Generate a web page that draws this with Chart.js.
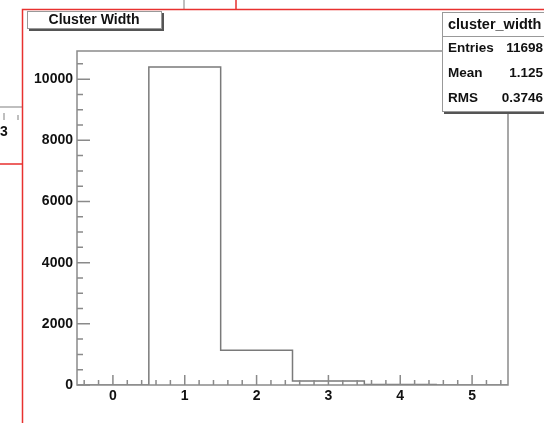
<!DOCTYPE html>
<html>
<head>
<meta charset="utf-8">
<script src="https://cdn.jsdelivr.net/npm/chart.js@4.4.1/dist/chart.umd.min.js"></script>
<style>
  html, body { margin: 0; padding: 0; background: #fff; }
  #wrap { position: relative; width: 544px; height: 423px; }
</style>
</head>
<body>
<div id="wrap"><canvas id="hist"></canvas></div>
<script>
// histogram cluster_width, bins of width 1 centred on integers
const binCenters = [0, 1, 2, 3, 4, 5];
const binCounts = [0, 10400, 1140, 130, 20, 0];
const xTickValues = [0, 1, 2, 3, 4, 5];
const yTickValues = [0, 2000, 4000, 6000, 8000, 10000];
const histTitle = 'Cluster Width';
const statsName = 'cluster_width';
const statsRows = [['Entries', '11698'], ['Mean', '1.125'], ['RMS', '0.3746']];

const FONT = 'Liberation Sans, Arial, Helvetica, sans-serif';
const GREY = '#8a8a8a';
const RED = '#e8312f';

// step outline points: lower edge of each bin + closing edge
const stepPts = binCenters.map((c, i) => ({ x: c - 0.5, y: binCounts[i] }));
stepPts.push({ x: binCenters[binCenters.length - 1] + 0.5, y: 0 });

const yMax = Math.max(...binCounts) * 1.05;

// frame, inward ticks, title box, stats box and the neighbouring pad bits
const rootPlugin = {
  id: 'rootPlugin',
  afterDraw(chart) {
    const ctx = chart.ctx;
    const a = chart.chartArea;
    const xs = chart.scales.x, ys = chart.scales.y;
    ctx.save();

    // frame
    ctx.strokeStyle = GREY;
    ctx.lineWidth = 1.5;
    ctx.strokeRect(a.left, a.top, a.right - a.left, a.bottom - a.top);

    // x ticks (pointing up)
    ctx.beginPath();
    for (let v = -0.4; v < 5.5; v += 0.2) {
      const px = xs.getPixelForValue(v);
      const major = Math.abs(v - Math.round(v)) < 1e-6;
      ctx.moveTo(px, a.bottom);
      ctx.lineTo(px, a.bottom - (major ? 10 : 5));
    }
    // y ticks (pointing right)
    for (let v = 0; v <= 10500; v += 500) {
      const py = ys.getPixelForValue(v);
      const major = v % 2000 === 0;
      ctx.moveTo(a.left, py);
      ctx.lineTo(a.left + (major ? 13 : 6), py);
    }
    ctx.stroke();

    // title box
    ctx.fillStyle = '#555';
    ctx.fillRect(29, 13, 135, 18);
    ctx.fillStyle = '#fff';
    ctx.fillRect(27, 11, 135, 18);
    ctx.strokeStyle = '#999';
    ctx.lineWidth = 1;
    ctx.strokeRect(27.5, 11.5, 134, 17);
    ctx.fillStyle = '#111';
    ctx.font = 'bold 14px ' + FONT;
    ctx.textAlign = 'center';
    ctx.textBaseline = 'middle';
    ctx.fillText(histTitle, 94, 20.5);

    // stats box
    ctx.fillStyle = '#555';
    ctx.fillRect(444, 14, 120, 100);
    ctx.fillStyle = '#fff';
    ctx.fillRect(442, 12, 120, 100);
    ctx.strokeStyle = '#999';
    ctx.strokeRect(442.5, 12.5, 120, 99);
    ctx.beginPath();
    ctx.moveTo(442, 36.5);
    ctx.lineTo(544, 36.5);
    ctx.stroke();
    ctx.fillStyle = '#111';
    ctx.textAlign = 'left';
    ctx.font = 'bold 14.5px ' + FONT;
    ctx.fillText(statsName, 448, 25);
    ctx.font = 'bold 13.5px ' + FONT;
    statsRows.forEach((r, i) => {
      const y = 48.5 + i * 25;
      ctx.textAlign = 'left';
      ctx.fillText(r[0], 448, y);
      ctx.textAlign = 'right';
      ctx.fillText(r[1], 543, y);
    });

    // bits of the neighbouring pads
    ctx.strokeStyle = '#aaa';
    ctx.lineWidth = 1.5;
    ctx.beginPath();
    ctx.moveTo(0, 107); ctx.lineTo(22, 107);
    ctx.moveTo(4, 113); ctx.lineTo(4, 120);
    ctx.moveTo(18, 115); ctx.lineTo(18, 120);
    ctx.moveTo(184, 0); ctx.lineTo(184, 9);
    ctx.stroke();
    ctx.fillStyle = '#111';
    ctx.font = 'bold 14px ' + FONT;
    ctx.textAlign = 'left';
    ctx.fillText('3', 0, 132.5);

    ctx.strokeStyle = RED;
    ctx.lineWidth = 1.5;
    ctx.beginPath();
    ctx.moveTo(22.5, 423); ctx.lineTo(22.5, 9.5); ctx.lineTo(544, 9.5);
    ctx.moveTo(0, 164); ctx.lineTo(22.5, 164);
    ctx.moveTo(236, 0); ctx.lineTo(236, 9.5);
    ctx.stroke();

    ctx.restore();
  }
};

new Chart(document.getElementById('hist'), {
  type: 'line',
  data: {
    datasets: [{
      data: stepPts,
      stepped: 'before',
      borderColor: '#7a7a7a',
      borderWidth: 1.5,
      pointRadius: 0,
      fill: false
    }]
  },
  options: {
    responsive: true,
    maintainAspectRatio: false,
    animation: false,
    events: [],
    layout: { padding: { top: 51, right: 36, left: 0, bottom: 0 } },
    plugins: { legend: { display: false }, tooltip: { enabled: false } },
    scales: {
      x: {
        type: 'linear',
        min: -0.5,
        max: 5.5,
        grid: { display: false, drawTicks: false },
        border: { display: false },
        afterBuildTicks: s => { s.ticks = xTickValues.map(v => ({ value: v })); },
        afterFit: s => { s.height = 38; },
        ticks: {
          padding: 3,
          color: '#111',
          font: { family: FONT, size: 14, weight: 'bold' },
          maxRotation: 0
        }
      },
      y: {
        min: 0,
        max: yMax,
        grid: { display: false, drawTicks: false },
        border: { display: false },
        afterBuildTicks: s => { s.ticks = yTickValues.map(v => ({ value: v })); },
        afterFit: s => { s.width = 77; },
        ticks: {
          padding: 4,
          color: '#111',
          font: { family: FONT, size: 14, weight: 'bold' },
          callback: v => String(v)
        }
      }
    }
  },
  plugins: [rootPlugin]
});
</script>
</body>
</html>
